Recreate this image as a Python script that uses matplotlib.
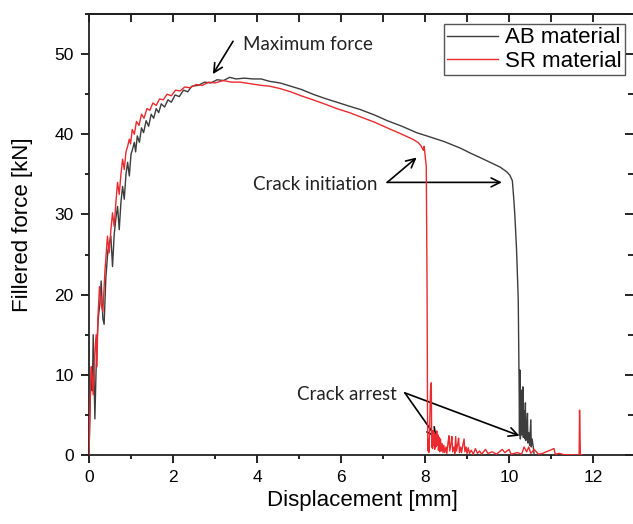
import matplotlib
matplotlib.use("Agg")
import matplotlib.pyplot as plt
from matplotlib.ticker import MultipleLocator

# ---------------- data ----------------
ab_x = [0.00, 0.03, 0.06, 0.08, 0.10, 0.14, 0.18, 0.22, 0.26, 0.29, 0.33, 0.36,
        0.40, 0.45, 0.52, 0.56, 0.60, 0.64, 0.68, 0.72, 0.76, 0.80, 0.84, 0.88,
        0.92, 0.96, 1.00, 1.04, 1.08, 1.11, 1.15, 1.20, 1.25, 1.30, 1.36, 1.42,
        1.48, 1.54, 1.60, 1.66, 1.72, 1.80, 1.88, 1.96, 2.05, 2.15, 2.25, 2.35,
        2.45, 2.60, 2.75, 2.90, 3.05, 3.20, 3.35, 3.50, 3.70, 3.90, 4.10, 4.30,
        4.55, 4.80, 5.05, 5.33, 5.60, 5.90, 6.20, 6.45, 6.80, 7.10, 7.45, 7.80,
        8.10, 8.45, 8.83, 9.10, 9.31, 9.55, 9.79, 9.95, 10.02, 10.08, 10.12, 10.14,
        10.18, 10.22, 10.24, 10.25, 10.26, 10.27, 10.28, 10.29, 10.30, 10.32, 10.33,
        10.34, 10.36, 10.37, 10.38, 10.39, 10.40, 10.42, 10.44, 10.45, 10.47, 10.49,
        10.52, 10.53, 10.55, 10.58, 10.60]
ab_y = [0.0, 7.0, 11.0, 8.0, 15.0, 4.5, 13.0, 17.0, 19.0, 21.7, 17.0, 16.3,
        22.0, 25.5, 27.3, 23.5, 27.5, 29.5, 31.0, 28.1, 31.5, 33.5, 31.9, 35.0,
        36.5, 34.8, 37.5, 38.2, 39.0, 37.8, 39.8, 39.0, 40.8, 40.2, 41.7, 41.0,
        42.5, 42.0, 43.2, 42.7, 43.8, 43.4, 44.3, 44.0, 44.9, 44.7, 45.5, 45.3,
        46.0, 46.1, 46.5, 46.4, 46.8, 46.7, 47.1, 46.9, 47.0, 46.9, 46.9, 46.6,
        46.4, 46.0, 45.6, 45.0, 44.5, 44.0, 43.5, 43.1, 42.4, 41.7, 41.0, 40.2,
        39.7, 39.1, 38.3, 37.6, 37.1, 36.5, 35.9, 35.3, 34.9, 34.2, 31.5, 29.8,
        25.6, 19.4, 9.0, 2.5, 10.6, 2.0, 3.5, 8.1, 2.5, 4.0, 8.5,
        2.2, 3.5, 5.5, 2.0, 6.5, 1.8, 3.2, 5.2, 1.5, 2.8, 1.2,
        4.4, 1.0, 2.0, 0.9, 0.0]

sr_x = [0.00, 0.02, 0.05, 0.08, 0.10, 0.13, 0.17, 0.19, 0.21, 0.25, 0.30, 0.33,
        0.38, 0.44, 0.48, 0.52, 0.56, 0.60, 0.64, 0.68, 0.72, 0.76, 0.80, 0.84,
        0.88, 0.92, 0.96, 0.99, 1.03, 1.08, 1.13, 1.19, 1.25, 1.31, 1.38, 1.45,
        1.52, 1.60, 1.68, 1.77, 1.86, 1.96, 2.06, 2.17, 2.28, 2.40, 2.55, 2.70,
        2.85, 3.00, 3.19, 3.40, 3.60, 3.85, 4.10, 4.30, 4.55, 4.80, 5.05, 5.33,
        5.60, 5.90, 6.20, 6.45, 6.80, 7.10, 7.45, 7.70, 7.83, 7.90, 7.96, 7.98,
        8.00, 8.03, 8.05, 8.06, 8.07, 8.08, 8.09, 8.11, 8.13, 8.15, 8.16, 8.17,
        8.18, 8.20, 8.21, 8.22, 8.23, 8.25, 8.26, 8.28, 8.29, 8.31, 8.32, 8.34,
        8.35, 8.37, 8.39, 8.41, 8.43, 8.45, 8.47, 8.50, 8.52, 8.55, 8.57, 8.59,
        8.62, 8.64, 8.66, 8.69, 8.71, 8.73, 8.75, 8.78, 8.80, 8.82, 8.85, 8.87,
        8.90, 8.93, 8.95, 8.98, 9.00, 9.03, 9.06, 9.10, 9.15, 9.20, 9.25, 9.30,
        9.35, 9.44, 9.50, 9.60, 9.70, 9.84, 9.90, 10.00, 10.05, 10.20, 10.30,
        10.36, 10.42, 10.47, 10.52, 10.60, 10.70, 10.80, 11.07, 11.10, 11.20,
        11.30, 11.67, 11.68, 11.70, 11.75]
sr_y = [0.0, 5.0, 11.0, 9.5, 7.5, 12.0, 15.0, 11.0, 16.9, 21.0, 18.5, 17.9,
        23.0, 27.3, 25.2, 28.0, 30.2, 28.5, 31.5, 34.0, 32.5, 35.0, 36.9, 35.6,
        37.8, 38.5, 39.4, 38.8, 40.6, 40.0, 41.6, 41.1, 42.5, 42.0, 43.2, 43.0,
        43.9, 43.6, 44.4, 44.3, 45.0, 44.8, 45.5, 45.4, 45.9, 45.8, 46.2, 46.1,
        46.5, 46.4, 46.7, 46.5, 46.5, 46.3, 46.1, 46.0, 45.7, 45.3, 44.8, 44.3,
        43.8, 43.2, 42.7, 42.2, 41.5, 40.8, 40.0, 39.4, 39.0, 38.6, 38.0, 38.5,
        37.5, 36.0, 20.0, 5.0, 0.5, 2.0, 0.3, 3.0, 8.0, 9.0, 1.0, 3.0,
        0.8, 3.1, 1.2, 2.8, 0.7, 2.6, 1.0, 3.0, 1.2, 2.5, 0.6, 2.2,
        0.4, 2.0, 0.5, 1.4, 0.3, 1.2, 0.3, 1.0, 0.2, 1.6, 2.4, 0.5,
        1.5, 2.3, 0.4, 1.0, 0.2, 2.3, 0.5, 1.4, 2.1, 0.3, 1.0, 0.3,
        1.2, 2.0, 0.4, 1.0, 0.2, 0.9, 0.2, 0.6, 0.1, 0.8, 0.2, 0.5,
        0.1, 0.7, 0.2, 0.4, 0.1, 0.7, 0.3, 0.7, 0.1, 0.3, 0.1,
        1.0, 0.4, 1.0, 0.2, 0.7, 0.1, 0.2, 0.8, 0.1, 0.2,
        0.05, 0.0, 5.6, 0.0, 0.0]

series_names = ["AB material", "SR material"]
x_ticks = [0, 2, 4, 6, 8, 10, 12]
y_ticks = [0, 10, 20, 30, 40, 50]

# ---------------- figure ----------------
W, H = 633, 524
fig = plt.figure(figsize=(W / 100, H / 100), dpi=100)
ax = fig.add_axes([89 / W, (H - 455) / H, 546 / W, 441 / H])

c_ab = "#3c3c3c"
c_sr = "#ea2a2f"
ax.plot(ab_x, ab_y, color=c_ab, lw=1.0, label=series_names[0], zorder=3)
ax.plot(sr_x, sr_y, color=c_sr, lw=1.0, label=series_names[1], zorder=4)

ax.set_xlim(0, 13)
ax.set_ylim(0, 55)

tick_font = "Liberation Sans"
ax.set_xticks(x_ticks)
ax.set_yticks(y_ticks)
ax.xaxis.set_minor_locator(MultipleLocator(1))
ax.yaxis.set_minor_locator(MultipleLocator(5))
ax.tick_params(which="both", direction="out", top=False, right=False,
               width=1.2, labelsize=12.5, colors="black")
ax.tick_params(which="major", length=6, pad=5)
ax.tick_params(which="minor", length=3)
for lab in ax.get_xticklabels() + ax.get_yticklabels():
    lab.set_fontfamily(tick_font)
for sp in ax.spines.values():
    sp.set_linewidth(1.3)
    sp.set_color("#222222")

# inward ticks on top and right
sx = ax.secondary_xaxis("top")
sx.set_xticks(x_ticks)
sx.xaxis.set_minor_locator(MultipleLocator(1))
sx.tick_params(which="both", direction="in", labeltop=False, width=1.2)
sx.tick_params(which="major", length=6)
sx.tick_params(which="minor", length=6)
sx.spines["top"].set_linewidth(1.3)
sy = ax.secondary_yaxis("right")
sy.set_yticks(y_ticks)
sy.yaxis.set_minor_locator(MultipleLocator(5))
sy.tick_params(which="both", direction="in", labelright=False, width=1.2)
sy.tick_params(which="major", length=7)
sy.tick_params(which="minor", length=5)

ax.set_xlabel("Displacement [mm]", fontsize=16, fontfamily=tick_font)
ax.set_ylabel("Fillered force [kN]", fontsize=16, fontfamily=tick_font)
ax.xaxis.set_label_coords(0.5, (455 - 490) / 441)
ax.yaxis.set_label_coords((33 - 89) / 546, (455 - 225) / 441)

leg = ax.legend(loc="upper right", bbox_to_anchor=(625 / W, 1 - 24 / H),
                bbox_transform=fig.transFigure, fancybox=False, framealpha=1,
                edgecolor="#555555", prop={"family": tick_font, "size": 16},
                handlelength=2.3, handletextpad=0.3, borderpad=0.15,
                labelspacing=0.1, borderaxespad=0)
leg.get_frame().set_linewidth(1.0)

# annotations
ann_font = dict(family="Lato", size=13.5, color="#222222")
arr = dict(arrowstyle="->", color="black", lw=1.2, shrinkA=0, shrinkB=0,
           mutation_scale=16)
ax.text(3.67, 51.25, "Maximum force", ha="left", va="center", **ann_font)
ax.annotate("", xy=(2.95, 47.5), xytext=(3.43, 51.6), arrowprops=arr)

ax.text(3.9, 33.75, "Crack initiation", ha="left", va="center", **ann_font)
ax.annotate("", xy=(7.8, 37.1), xytext=(7.1, 34.0), arrowprops=arr)
ax.annotate("", xy=(9.83, 34.0), xytext=(7.1, 34.0), arrowprops=arr)

ax.text(4.95, 7.5, "Crack arrest", ha="left", va="center", **ann_font)
ax.annotate("", xy=(8.28, 2.1), xytext=(7.52, 7.75), arrowprops=arr)
ax.annotate("", xy=(10.25, 2.4), xytext=(7.52, 7.75), arrowprops=arr)

fig.savefig("out.png", dpi=100)
